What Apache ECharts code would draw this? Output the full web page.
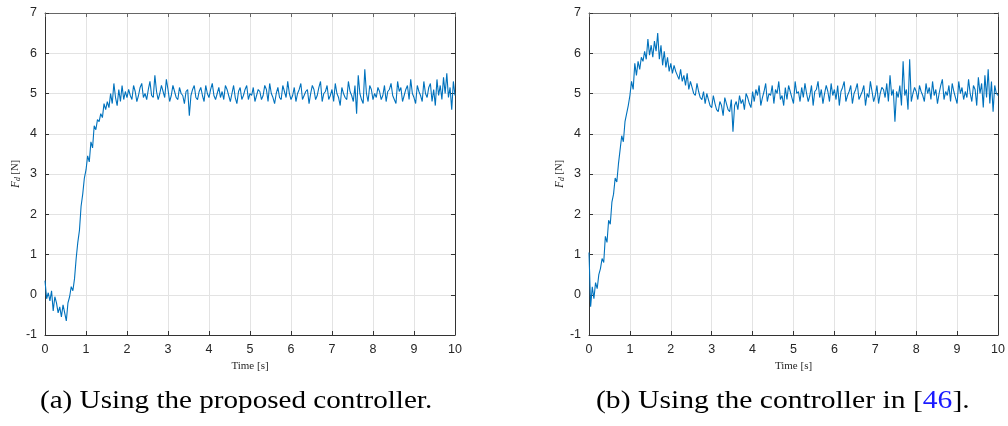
<!DOCTYPE html>
<html>
<head>
<meta charset="utf-8">
<script src="https://cdn.jsdelivr.net/npm/echarts@6/dist/echarts.min.js"></script>
<style>
  html, body { margin: 0; padding: 0; background: #fff; }
  #chart { width: 1008px; height: 426px; }
</style>
</head>
<body>
<div id="chart"></div>
<script>
// sampling step of the logged force signal [s]
const sampleStep = 0.04;

const xTicks = [0, 1, 2, 3, 4, 5, 6, 7, 8, 9, 10];
const yTicks = [-1, 0, 1, 2, 3, 4, 5, 6, 7];

// (a) proposed controller, F_d [N]
const forceProposed = [
    0.35, -0.1, 0.05, -0.15, 0.1, -0.4, -0.05, -0.2, -0.45, -0.3,
    -0.55, -0.25, -0.45, -0.65, -0.2, -0.05, 0.2, 0.1, 0.4, 0.9,
    1.3, 1.6, 2.2, 2.5, 2.9, 3.1, 3.45, 3.3, 3.8, 3.65,
    4.2, 4.1, 4.35, 4.3, 4.5, 4.4, 4.75, 4.6, 4.8, 4.65,
    5.0, 4.75, 5.25, 4.9, 4.7, 5.1, 4.8, 5.2, 4.85, 5.05,
    4.9,
    5.1, 4.95, 4.85, 5.2, 5.05, 4.8, 4.95, 5.15, 5.25, 4.9,
    5.0, 4.85, 5.1, 5.3, 4.95, 4.9, 5.45, 5.05, 4.85, 5.0,
    5.2, 5.05, 4.9, 5.35, 5.1, 4.8, 4.95, 5.2, 5.05, 4.9,
    4.85, 5.15, 5.0, 4.95, 4.75, 5.05, 5.1, 4.45, 4.95, 5.1,
    5.2, 4.9, 4.85, 5.05, 5.15, 4.95, 4.8, 5.2, 5.0, 4.9,
    5.1, 5.25, 4.95, 4.85, 5.0, 5.15, 4.9, 5.05, 4.85, 5.2,
    5.1, 4.95, 4.8, 5.0, 5.2, 4.9, 4.75, 5.05, 5.15, 4.85,
    4.95, 5.1, 5.2, 4.85, 5.0, 4.95, 5.15, 4.8, 4.95, 5.1,
    5.05, 4.85, 4.95, 5.2, 5.1, 4.8, 5.25, 5.0, 4.9, 4.75,
    5.0, 5.15, 4.9, 4.85, 5.2, 5.05, 4.9, 5.3, 5.0, 4.85,
    4.95, 5.15, 4.8, 5.0, 5.1, 5.25, 4.85, 4.95, 5.05, 5.1,
    4.75, 5.0, 5.2, 5.1, 4.85, 4.95, 5.15, 5.3, 4.8, 5.0,
    5.05, 5.2, 4.85, 4.95, 5.1, 4.8, 5.25, 5.0, 4.9, 4.7,
    5.15, 5.0, 4.9, 4.85, 5.3, 5.05, 4.95, 4.8, 5.2, 4.5,
    5.45, 5.0, 4.85, 4.75, 5.6, 5.0, 4.8, 5.2, 5.1, 4.85,
    5.0, 4.9, 5.15, 5.05, 4.85, 4.95, 5.2, 4.8, 5.05, 5.1,
    5.25, 4.95, 4.85, 4.75, 5.3, 5.05, 5.15, 4.8, 4.95, 5.1,
    5.2, 4.85, 5.35, 5.0, 4.9, 4.75, 5.2, 5.05, 4.95, 4.8,
    5.3, 5.0, 4.9, 5.15, 5.25, 4.8, 5.1, 4.7, 5.35, 4.95,
    5.2, 4.85, 5.4, 5.0, 5.5, 4.9, 5.15, 4.6, 5.3, 4.95
];

// (b) controller in [46], F_d [N]
const forceReference = [
    1.05, -0.3, 0.2, -0.1, 0.3, 0.15, 0.5, 0.65, 0.9, 0.8,
    1.45, 1.3, 1.85, 1.75, 2.3, 2.5, 2.9, 2.8, 3.25, 3.6,
    3.95, 3.8, 4.3, 4.5, 4.7, 4.95, 5.3, 5.1, 5.75, 5.45,
    5.8, 5.6, 5.9, 5.8, 6.05, 5.85, 6.35, 5.95, 6.2, 5.9,
    6.3, 6.05, 6.5, 5.85, 6.2, 5.7, 6.05, 5.65, 5.9, 5.55,
    5.75,
    5.5, 5.7, 5.55, 5.45, 5.35, 5.6, 5.3, 5.45, 5.2, 5.5,
    5.1, 5.3, 5.15, 5.0, 4.95, 5.25, 5.05, 4.9, 4.85, 5.05,
    4.75, 5.0, 4.85, 4.7, 4.65, 4.95, 4.75, 4.6, 4.55, 4.8,
    4.7, 4.45, 4.9, 4.75, 4.6, 4.55, 4.85, 4.05, 4.7, 4.8,
    4.6, 4.95, 4.75, 4.85, 4.6, 5.0, 4.9, 4.75, 4.65, 5.05,
    4.8, 5.1, 4.95, 5.2, 4.7, 4.9, 5.05, 5.25, 4.8, 5.0,
    4.95, 5.2, 4.75, 5.1, 5.0, 5.3, 4.85, 4.95, 4.7, 5.15,
    4.85, 5.2, 5.05, 4.9, 4.75, 5.3, 5.0, 5.05, 4.8, 5.15,
    4.9, 5.25, 5.0, 4.8, 4.95, 5.2, 4.7, 5.05, 5.1, 5.3,
    4.9, 5.1, 4.75, 5.0, 5.2, 5.05, 4.8, 5.25, 4.95, 5.1,
    4.85, 5.2, 4.7, 5.05, 5.15, 5.3, 4.8, 4.95, 5.05, 5.2,
    4.75, 5.0, 5.1, 5.25, 4.85, 4.95, 5.05, 5.2, 4.7, 5.0,
    4.9, 5.3, 5.05, 4.8, 4.95, 5.2, 4.75, 5.0, 5.15, 5.1,
    4.9, 5.25, 4.8, 5.45, 4.95, 5.1, 4.3, 5.05, 4.9, 5.2,
    4.7, 5.8, 4.95, 5.1, 4.6, 5.85, 4.8, 5.0, 5.15, 5.05,
    4.85, 5.2, 5.05, 4.95, 4.8, 5.25, 5.0, 5.15, 4.85, 5.3,
    4.95, 5.1, 4.75, 5.0, 5.2, 5.35, 4.85, 5.05, 4.95, 5.2,
    4.8, 5.25, 5.05, 4.9, 4.75, 5.3, 5.0, 5.15, 4.85, 5.05,
    4.9, 5.35, 5.0, 4.8, 5.2, 5.1, 4.7, 5.4, 5.0, 5.25,
    4.65, 5.45, 4.9, 5.6, 4.75, 5.3, 4.55, 5.2, 5.0, 4.95
];

const captionA = '(a) Using the proposed controller.';
const captionB = ['(b) Using the controller in [', '46', '].'];

const withTime = values => values.map((v, i) => [+(i * sampleStep).toFixed(2), v]);

const axisColor = '#333333';
const gridColor = '#e3e3e3';
const serif = '"Liberation Serif", "Times New Roman", serif';
const tickFont = {fontFamily: 'Liberation Sans, Arial, sans-serif', fontSize: 12.5, color: '#262626'};

const grids = [
    {left: 45, top: 13, width: 410, height: 322},
    {left: 589, top: 13, width: 409, height: 322}
];

const xAxes = [];
const yAxes = [];
grids.forEach((g, k) => {
    // bottom axis with labels
    xAxes.push({
        gridIndex: k, type: 'value', min: xTicks[0], max: xTicks[xTicks.length - 1], interval: 1,
        position: 'bottom',
        name: 'Time [s]', nameLocation: 'middle', nameGap: 21,
        nameTextStyle: {fontFamily: serif, fontSize: 11, color: '#262626'},
        axisLine: {show: true, onZero: false, lineStyle: {color: axisColor, width: 1}},
        axisTick: {show: true, inside: true, length: 4, lineStyle: {color: axisColor}},
        axisLabel: Object.assign({margin: 8}, tickFont),
        splitLine: {show: true, lineStyle: {color: gridColor, width: 1}}
    });
    // top edge of the box
    xAxes.push({
        gridIndex: k, type: 'value', min: xTicks[0], max: xTicks[xTicks.length - 1], interval: 1,
        position: 'top',
        axisLine: {show: true, onZero: false, lineStyle: {color: '#666666', width: 1}},
        axisTick: {show: true, inside: true, length: 4, lineStyle: {color: '#666666'}},
        axisLabel: {show: false},
        splitLine: {show: false}
    });
    yAxes.push({
        gridIndex: k, type: 'value', min: yTicks[0], max: yTicks[yTicks.length - 1], interval: 1,
        position: 'left',
        name: '{f|F}{d|d} [N]', nameLocation: 'middle', nameGap: 22,
        nameTextStyle: {
            fontFamily: serif, fontSize: 10.5, color: '#262626',
            rich: {
                f: {fontFamily: serif, fontStyle: 'italic', fontSize: 11.5, color: '#262626'},
                d: {fontFamily: serif, fontStyle: 'italic', fontSize: 8, color: '#262626', padding: [5, 0, 0, 0]}
            }
        },
        axisLine: {show: true, onZero: false, lineStyle: {color: axisColor, width: 1}},
        axisTick: {show: true, inside: true, length: 4, lineStyle: {color: axisColor}},
        axisLabel: Object.assign({margin: 8}, tickFont),
        splitLine: {show: true, lineStyle: {color: gridColor, width: 1}}
    });
    // right edge of the box
    yAxes.push({
        gridIndex: k, type: 'value', min: yTicks[0], max: yTicks[yTicks.length - 1], interval: 1,
        position: 'right',
        axisLine: {show: true, onZero: false, lineStyle: {color: axisColor, width: 1}},
        axisTick: {show: true, inside: true, length: 4, lineStyle: {color: axisColor}},
        axisLabel: {show: false},
        splitLine: {show: false}
    });
});

const chart = echarts.init(document.getElementById('chart'), null, {renderer: 'canvas'});

const option = {
    animation: false,
    backgroundColor: '#ffffff',
    grid: grids,
    xAxis: xAxes,
    yAxis: yAxes,
    series: [
        {
            type: 'line', xAxisIndex: 0, yAxisIndex: 0,
            data: withTime(forceProposed),
            showSymbol: false, lineStyle: {color: '#0072bd', width: 1.1}
        },
        {
            type: 'line', xAxisIndex: 2, yAxisIndex: 2,
            data: withTime(forceReference),
            showSymbol: false, lineStyle: {color: '#0072bd', width: 1.1}
        }
    ],
    graphic: [
        {
            type: 'text', x: 40, y: 388, scaleX: 1.12,
            style: {
                text: captionA,
                fontFamily: serif, fontSize: 26, fill: '#000',
                align: 'left', verticalAlign: 'top'
            }
        },
        {
            type: 'text', x: 596, y: 388, scaleX: 1.14,
            style: {
                text: '{t|' + captionB[0] + '}{r|' + captionB[1] + '}{t|' + captionB[2] + '}',
                align: 'left', verticalAlign: 'top',
                rich: {
                    t: {fontFamily: serif, fontSize: 26, fill: '#000', color: '#000'},
                    r: {fontFamily: serif, fontSize: 26, fill: '#1a1aff', color: '#1a1aff'}
                }
            }
        }
    ]
};

chart.setOption(option);
</script>
</body>
</html>
